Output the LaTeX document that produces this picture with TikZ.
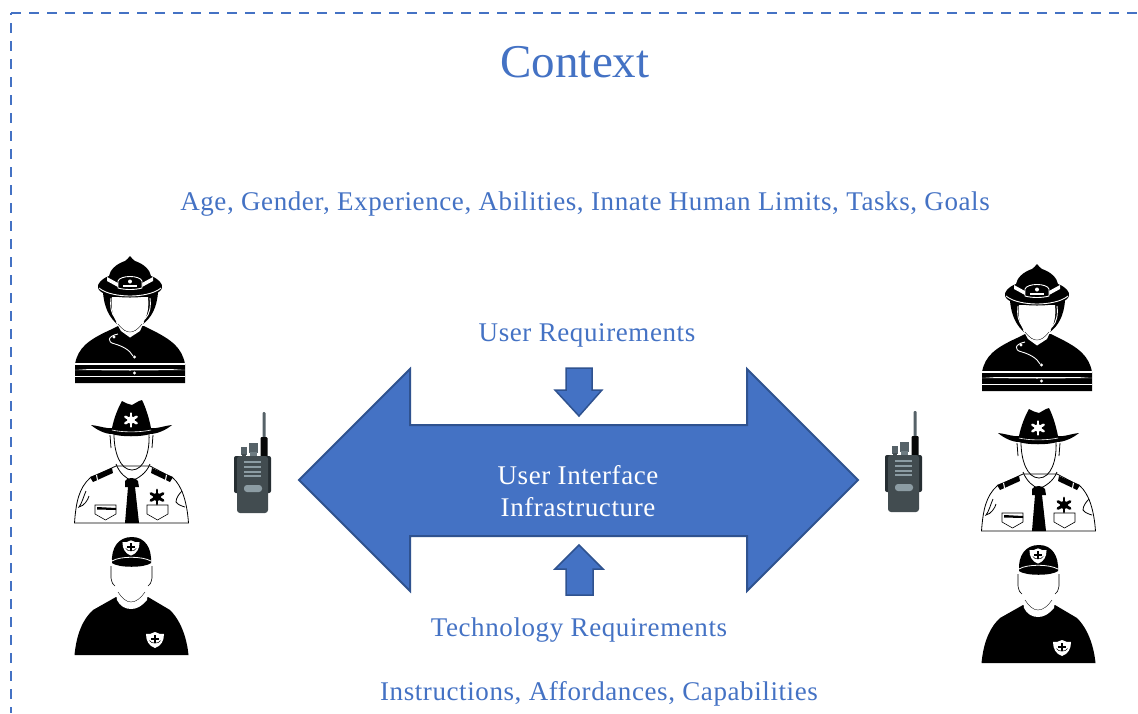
\documentclass[tikz,border=0pt]{standalone}
\usepackage{fontspec}
\setmainfont{Liberation Serif}
\definecolor{blu}{HTML}{4472C4}
\definecolor{edgeblu}{HTML}{2F528F}
\definecolor{rdark}{HTML}{262E32}
\definecolor{rmid}{HTML}{424C50}
\definecolor{rknob}{HTML}{566268}
\definecolor{rlite}{HTML}{8C9CA3}
\newcommand{\spaced}[2]{\fontsize{#1}{#2}\selectfont\addfontfeature{LetterSpace=2.2}}
\tikzset{
 lab/.style={text=blu,inner sep=0pt,anchor=center},
 frameline/.style={draw=blu,line width=2.4pt},
 blockarrow/.style={fill=blu,draw=edgeblu,line width=2pt,line join=miter},
 blk/.style={fill=black,draw=none},
 wht/.style={fill=white,draw=none},
 thinw/.style={draw=white,line width=.9pt,fill=none},
 thinb/.style={draw=black,line width=.8pt,fill=none},
}
\newcommand{\tinystar}[4]{% x y r colour
 \foreach \a in {0,60,...,300}{\draw[#4,line width=#3*.4pt,line cap=round] (#1,#2) -- ++(\a+90:#3);}
 \fill[#4] (#1,#2) circle (#3*.6);
}
\newcommand{\facepart}{%
 \fill[wht] (52,47) -- (88,47) .. controls (89,58) and (88,66) .. (81,76) .. controls (77,80) and (74,82) .. (70,82) .. controls (66,82) and (63,80) .. (59,76) .. controls (52,66) and (51,58) .. (52,47) -- cycle;
}
\newcommand{\fireman}[2]{\begin{scope}[shift={(#1,#2)}]
 \fill[blk] (43,42) .. controls (44,58) and (50,68) .. (57,74) -- (83,74) .. controls (91,68) and (97,58) .. (98,42) -- cycle;
 % body
 \fill[blk] (15,133) -- (15,114) .. controls (18,98) and (28,90) .. (50,80) -- (58,76) -- (84,76) -- (92,80) .. controls (112,90) and (122,98) .. (125,114) -- (125,133) -- cycle;
 \draw[thinw] (51,48) .. controls (50,56) and (51,64) .. (56,69);
 \draw[thinw] (90,48) .. controls (91,56) and (90,64) .. (85,69);
 \fill[wht] (56,72) -- (84,72) -- (80,81) -- (70,87.5) -- (61,81) -- cycle;
 \fill[wht] (15,112.5) rectangle (125,114.5);
 \fill[wht] (15,125.5) rectangle (125,127);
 \fill[wht] (30,119) -- (110,119) -- (125,120) -- (70,120.5) -- (15,120) -- cycle;
 \draw[thinw] (58,84) .. controls (48,86) and (46,92) .. (55,94) .. controls (62,96) and (70,100) .. (73,106);
 \fill[wht] (54,87) circle (1.6);
 \fill[wht] (74.5,107) circle (1.7);
 \fill[wht] (74.5,123) circle (1.7);
 \facepart
 \draw[black,line width=.35pt] (58,74) .. controls (63,80) and (66,82) .. (70,82) .. controls (74,82) and (77,80) .. (82,74);
 % helmet
 \fill[blk] (70,6) .. controls (72,8) and (73,10) .. (75,11) .. controls (84,14) and (90,20) .. (91,26) .. controls (99,29) and (103,34) .. (102,38) .. controls (100,44) and (88,47.5) .. (70,47.5) .. controls (52,47.5) and (40,44) .. (38,38) .. controls (37,34) and (41,29) .. (49,26) .. controls (50,20) and (56,14) .. (65,11) .. controls (67,10) and (68,8) .. (70,6) -- cycle;
 \draw[thinw] (39,38) .. controls (46,44) and (60,46) .. (70,46) .. controls (80,46) and (94,44) .. (101,38);
 \fill[wht] (47,27) -- (58,33) -- (58,37) -- (47,31) -- cycle;
 \fill[wht] (93,27) -- (82,33) -- (82,37) -- (93,31) -- cycle;
 \draw[white,line width=.9pt,fill=black] (58,38) -- (58,31) .. controls (60,25) and (80,25) .. (82,31) -- (82,38) .. controls (75,40) and (65,40) .. (58,38) -- cycle;
 \fill[wht] (70,31.5) circle (2);
 \fill[wht] (63,35) rectangle (77,37);
\end{scope}}
\newcommand{\pocket}[2]{\draw[black,line width=.6pt,fill=white] (#1,#2) -- ++(21,0) -- ++(0,9) -- ++(-10.5,6) -- ++(-10.5,-6) -- cycle;}
\newcommand{\sheriff}[2]{\begin{scope}[shift={(#1,#2)}]
 % shirt
 \draw[black,line width=.8pt,fill=white] (14.5,133) .. controls (16,112) and (19,98) .. (30,88) -- (56,76) -- (90,76) -- (113,88) .. controls (122,96) and (127,112) .. (128.5,133) -- cycle;
 % epaulettes
 \fill[blk] (30,87) -- (52,78) -- (53,83) -- (33,92) -- cycle;
 \fill[blk] (113,87) -- (92,78) -- (91,83) -- (110,92) -- cycle;
 \fill[wht] (36,85) -- (37,90) -- (38,90) -- (37,84.5) -- cycle;
 \fill[wht] (107,85) -- (106,90) -- (105,90) -- (106,84.5) -- cycle;
 \draw[thinb] (26,101) .. controls (23,108) and (22,113) .. (19,117) .. controls (24,116) and (28,110) .. (29,106);
 \draw[thinb] (122,101) .. controls (119,104) and (116,108) .. (116,112) .. controls (118,115) and (122,116) .. (125,117);
 % neck and collar
 \draw[thinb] (56,74) .. controls (60,84) and (66,88) .. (72,91) .. controls (78,88) and (86,84) .. (90,74);
 \draw[thinb] (50,45) -- (51,58);
 \draw[thinb] (93,45) -- (92,58);
 \draw[thinb] (54,44) .. controls (54,62) and (60,80) .. (72,80) .. controls (84,80) and (90,62) .. (89,44);
 % tie
 \fill[blk] (65,91) .. controls (67,87) and (76,87) .. (78,91) -- (79,97) -- (65,97) -- cycle;
 \fill[blk] (68,97) -- (75,97) -- (79,133) -- (65,133) -- cycle;
 % pockets
 \pocket{35}{115}
 \pocket{87}{115}
 \fill[blk] (37,117) -- (56,118) -- (56,120) -- (37,119.5) -- cycle;
 \tinystar{97}{107}{7}{black}
 % hat
 \fill[blk] (31,35) .. controls (40,36) and (47,39) .. (52,38) .. controls (54,28) and (58,18) .. (62,11) -- (67,13.5) -- (72,15) -- (79,11) -- (82,10) .. controls (86,18) and (89,28) .. (91,38) .. controls (97,39) and (103,36) .. (112,35) .. controls (106,40) and (97,44) .. (90,44) .. controls (82,47) and (60,47) .. (52,44) .. controls (45,44) and (37,40) .. (31,35) -- cycle;
 \draw[thinw,line width=.6pt] (52,40) .. controls (62,42.5) and (80,42.5) .. (91,40);
 \tinystar{71}{30}{6.5}{white}
\end{scope}}
\newcommand{\shield}[3]{% x y scale
 \begin{scope}[shift={(#1,#2)},scale=#3]
 \fill[wht] (0,-7) .. controls (3,-5) and (6,-5) .. (9,-5) .. controls (9,2) and (6,7) .. (0,9) .. controls (-6,7) and (-9,2) .. (-9,-5) .. controls (-6,-5) and (-3,-5) .. (0,-7) -- cycle;
 \fill[blk] (-1,-4) rectangle (1,4);
 \fill[blk] (-4,-1) rectangle (4,1);
 \draw[black,line width=.5pt] (-5.5,1.5) .. controls (-4,5) and (4,5) .. (5.5,1.5);
 \end{scope}}
\newcommand{\medic}[2]{\begin{scope}[shift={(#1,#2)}]
 \fill[blk] (14.5,125) .. controls (16,110) and (20,92) .. (33,80) -- (56,67) -- (88,67) -- (110,80) .. controls (122,92) and (127,110) .. (128.5,125) -- cycle;
 \fill[wht] (56,62) -- (88,62) -- (87,70) .. controls (82,76) and (77,79) .. (71,79) .. controls (65,79) and (60,76) .. (57,70) -- cycle;
 \draw[black,line width=.35pt] (58,62) .. controls (62,68) and (66,72) .. (71,72) .. controls (76,72) and (81,68) .. (85,62);
 \draw[thinb,line width=.6pt] (51,36) -- (51,48) .. controls (52,53) and (53,55) .. (55,56);
 \draw[thinb,line width=.6pt] (92,36) -- (92,48) .. controls (91,53) and (90,55) .. (88,56);
 % cap
 \fill[blk] (52,33) .. controls (51,18) and (58,7) .. (72,7) .. controls (85,7) and (92,18) .. (91,33) .. controls (85,38) and (58,38) .. (52,33) -- cycle;
 \draw[white,line width=.8pt] (52,31) .. controls (60,26) and (82,26) .. (91,31);
 \shield{71}{17}{.95}
 \shield{95}{109}{1}
\end{scope}}
\newcommand{\radio}[2]{\begin{scope}[shift={(#1,#2)}]
 \fill[rknob,rounded corners=1pt] (42.5,7) rectangle (45.5,34);
 \fill[black!90!rmid,rounded corners=1pt] (40.5,32) rectangle (47.5,53);
 \fill[rknob] (21,42) rectangle (27,50);
 \fill[rmid] (22,49) rectangle (26,52);
 \fill[rknob] (29,38) rectangle (38,48);
 \fill[rlite!60!rmid] (30,47) rectangle (37,52);
 \fill[rdark,rounded corners=2pt] (14,51) rectangle (51,88);
 \fill[rmid,rounded corners=3pt] (17,51) rectangle (48,108);
 \foreach \y in {56,61,65.5,70}{\fill[rlite] (24,\y) rectangle (41,\y+2.2);}
 \fill[rlite,rounded corners=3pt] (24,80) rectangle (42,87);
\end{scope}}
\begin{document}
\begin{tikzpicture}[x=1pt,y=-1pt]
\useasboundingbox (0,0) rectangle (1138,713);
\fill[white] (0,0) rectangle (1138,713);
\coordinate (corner) at (11,13);
\coordinate (frameR) at (1138,13);
\coordinate (frameB) at (11,713);
\draw[frameline,dash pattern=on 10pt off 8pt] (corner) -- (frameR);
\draw[frameline,dash pattern=on 10pt off 8pt,dash phase=8pt] (corner) -- (frameB);
\node[lab,font=\fontsize{47}{50}\selectfont] (ctx) at (575,62) {Context};
\node[lab,font=\spaced{27}{30}] (human) at (585,204) {Age, Gender, Experience, Abilities, Innate Human Limits, Tasks, Goals};
\node[lab,font=\spaced{27}{30}] (ureq) at (587,335) {User Requirements};
\node[lab,font=\spaced{27}{30}] (treq) at (579,630) {Technology Requirements};
\node[lab,font=\spaced{27}{30}] (inst) at (599,694) {Instructions, Affordances, Capabilities};
\draw[blockarrow] (299,480) -- (410,369) -- (410,425) -- (747,425) -- (747,369) -- (858,480) -- (747,591) -- (747,536) -- (410,536) -- (410,591) -- cycle;
\draw[blockarrow,line width=1.5pt] (566,368) -- (592,368) -- (592,390) -- (602,390) -- (579,416) -- (555,390) -- (566,390) -- cycle;
\draw[blockarrow,line width=1.5pt] (579,545) -- (603,569) -- (593,569) -- (593,595) -- (566,595) -- (566,569) -- (555,569) -- cycle;
\node[inner sep=0pt,text=white,align=center,font=\spaced{27}{32.5}] (ui) at (578,491) {User Interface\\Infrastructure};
\fireman{60}{250}
\sheriff{60}{390}
\medic{60}{530}
\fireman{967}{258}
\sheriff{967}{398}
\medic{967}{538}
\radio{220}{405}
\radio{871}{404}
\end{tikzpicture}
\end{document}
